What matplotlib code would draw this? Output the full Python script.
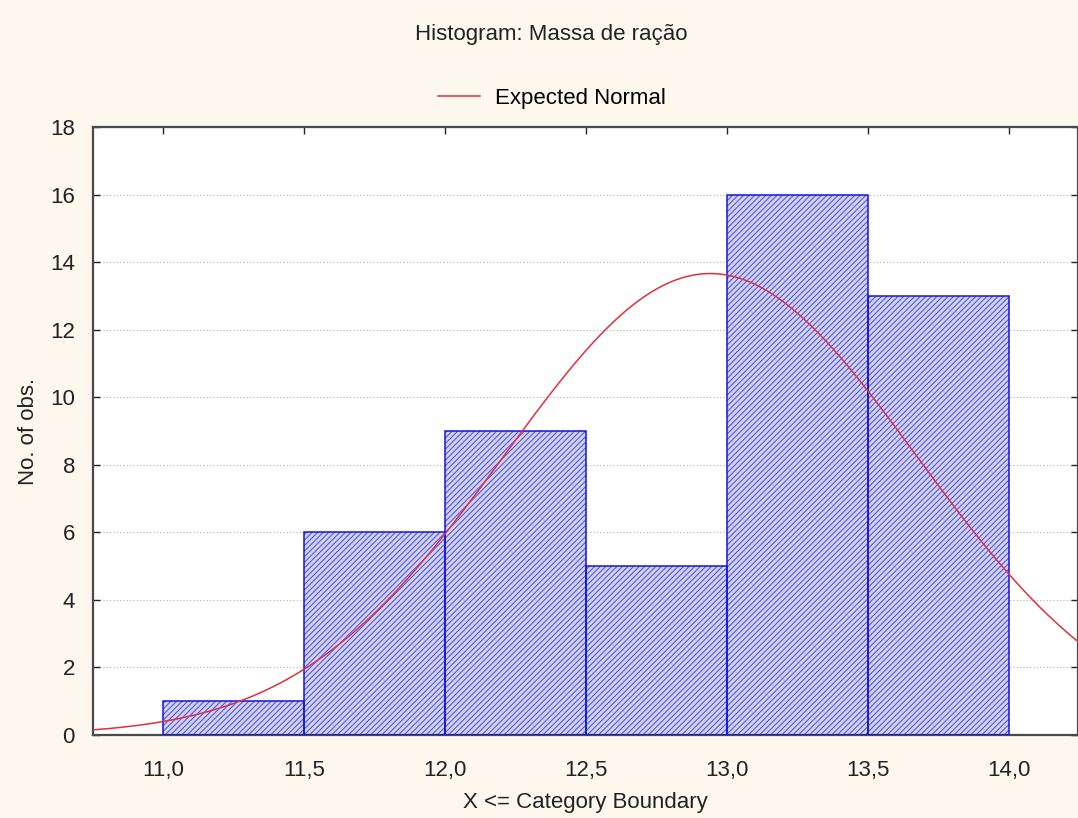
import numpy as np
import matplotlib
matplotlib.use("Agg")
import matplotlib.pyplot as plt
from matplotlib.lines import Line2D

# Data
bin_edges = [11.0, 11.5, 12.0, 12.5, 13.0, 13.5, 14.0]
counts = [1, 6, 9, 5, 16, 13]
x_ticks = [11.0, 11.5, 12.0, 12.5, 13.0, 13.5, 14.0]
x_tick_labels = ["11,0", "11,5", "12,0", "12,5", "13,0", "13,5", "14,0"]
y_ticks = [0, 2, 4, 6, 8, 10, 12, 14, 16, 18]
# Expected normal parameters (fitted curve shown in the chart)
normal_mean = 12.94
normal_sd = 0.73

plt.rcParams['font.family'] = ['Liberation Sans', 'DejaVu Sans']
plt.rcParams['hatch.linewidth'] = 0.8

bg = '#fcf8ee'
txt = '#222222'
fs = 16
fig = plt.figure(figsize=(10.78, 8.18), dpi=100, facecolor=bg)
ax = fig.add_axes([0.0863, 0.1015, 0.9137, 0.7432])
ax.set_facecolor('white')

n_total = sum(counts)
width = bin_edges[1] - bin_edges[0]
lefts = bin_edges[:-1]
# hatched fill
ax.bar(lefts, counts, width=width, align='edge', facecolor='#d2d3f6',
       edgecolor='#5358da', linewidth=0, hatch='//////', zorder=2)
# bar outlines
ax.bar(lefts, counts, width=width, align='edge', facecolor='none',
       edgecolor='#1414e0', linewidth=1.1, zorder=3)

xs = np.linspace(10.7, 14.3, 400)
ys = n_total * width / (normal_sd * np.sqrt(2 * np.pi)) * np.exp(-0.5 * ((xs - normal_mean) / normal_sd) ** 2)
ax.plot(xs, ys, color='#e0303c', linewidth=1.1, zorder=4)

ax.set_xlim(10.75, 14.245)
ax.set_ylim(0, 18)
ax.set_xticks(x_ticks)
ax.set_xticklabels(x_tick_labels)
ax.set_yticks(y_ticks)
ax.yaxis.grid(True, linestyle=(0, (1, 2)), color='#b0b0b0', linewidth=0.8, zorder=0)
ax.set_axisbelow(True)

ax.tick_params(axis='both', which='both', direction='in', top=True, right=True,
               length=5, width=1, labelsize=fs, colors=txt)
ax.tick_params(axis='y', pad=13)
ax.tick_params(axis='x', pad=18, bottom=False)
for s in ax.spines.values():
    s.set_color('#4a4a4a')
    s.set_linewidth(1.6)

ax.set_xlabel("X <= Category Boundary", fontsize=fs, color=txt, labelpad=8)
ax.set_ylabel("No. of obs.", fontsize=fs, color=txt, labelpad=8)

fig.text(0.511, 0.958, "Histogram: Massa de ração", ha='center', va='center',
         fontsize=fs, color=txt)

handle = Line2D([], [], color='#e0303c', linewidth=1.1)
fig.legend([handle], ["Expected Normal"], loc='center', bbox_to_anchor=(0.512, 0.88),
           frameon=False, fontsize=fs, handlelength=1.9, handletextpad=0.7)

fig.savefig("out.png", dpi=100, facecolor=bg)
